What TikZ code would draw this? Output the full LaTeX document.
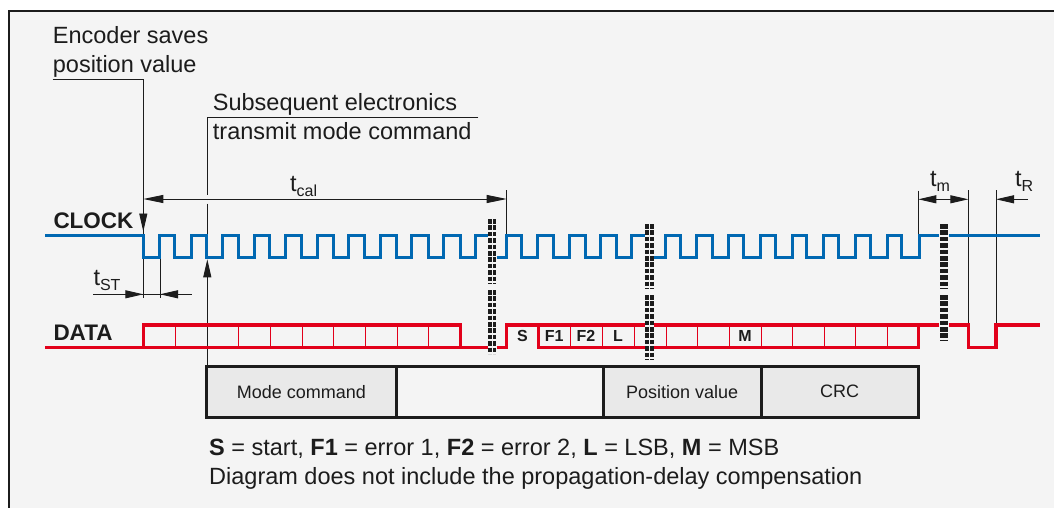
\documentclass[tikz,border=0pt]{standalone}
\usepackage{fontspec}
\setmainfont{Liberation Sans}
\usetikzlibrary{arrows.meta}
\usetikzlibrary{positioning}
\definecolor{ClkBlue}{RGB}{0,104,178}
\definecolor{DatRed}{RGB}{226,0,26}
\definecolor{PanelGray}{RGB}{244,244,244}
\definecolor{FieldGray}{RGB}{233,233,233}
\definecolor{InkGray}{RGB}{28,28,28}
\tikzset{
	clk/.style={line width=3pt, draw=ClkBlue},
	dat/.style={line width=3.4pt, draw=DatRed},
	bitsep/.style={line width=0.9pt, draw=DatRed},
	dimln/.style={line width=0.9pt, draw=InkGray},
	arw/.style={-{Triangle[length=18pt, width=8pt]}},
	arwboth/.style={{Triangle[length=18pt, width=8pt]}-{Triangle[length=18pt, width=8pt]}},
	lbl/.style={font=\fontsize{23.5}{29}\selectfont, text=InkGray, inner sep=0pt, align=left},
	sig/.style={font=\fontsize{22.5}{27}\selectfont\bfseries, text=InkGray, inner sep=0pt},
	bit/.style={font=\fontsize{16}{18}\selectfont\bfseries, text=InkGray, inner sep=0pt},
	field/.style={draw=InkGray, line width=3pt, fill=FieldGray, minimum height=51.3pt,
		inner sep=0pt, outer sep=0pt, font=\fontsize{18}{20}\selectfont, text=InkGray},
	brk/.style={line width=3.8pt, draw=InkGray, dash pattern=on 4.6pt off 1.8pt}
}
\newcommand{\tlab}[1]{t\raisebox{-5pt}{\fontsize{16}{16}\selectfont #1}}

\begin{document}
\begin{tikzpicture}[x=1pt, y=-1pt]
	\useasboundingbox (0,0) rectangle (1054,508);
	\fill[white] (0,0) rectangle (1054,508);
	\fill[PanelGray] (9,11) rectangle (1054,508);
	\draw[line width=2.4pt, draw=InkGray] (1054,11) -- (9,11) -- (9,508);

	% labels on top
	\node[lbl, anchor=north west] (enc) at (52.7,26.5) {Encoder saves\\position value};
	\node[lbl, anchor=north west] (subs) at (212.7,93.2) {Subsequent electronics\\transmit mode command};
	\node[sig, anchor=base west] (clklbl) at (53.3,228.3) {CLOCK};
	\node[sig, anchor=base west] (datlbl) at (53.3,340) {DATA};

	% timing marks
	\coordinate (encL) at (52.7,79.3);
	\coordinate (encC) at (143.3,79.3);
	\coordinate (subsR) at (478.3,117.3);
	\coordinate (subsC) at (207.3,117.3);
	\draw[dimln] (encL) -- (encC) -- (143.3,298);
	\draw[dimln, arw] (143.3,205) -- (143.3,231.5);
	\draw[dimln] (subsR) -- (subsC) -- (207.3,195);
	\draw[dimln] (207.3,203.5) -- (207.3,235);
	\draw[dimln, arw] (207.3,366) -- (207.3,259.3);
	\draw[dimln, {Triangle[length=20pt, width=8pt]}-{Triangle[length=20pt, width=8pt]}] (143.3,199) -- (506.7,199);
	\draw[dimln] (506.7,190) -- (506.7,233.5);
	\node[lbl, anchor=base west] (tcal) at (290,191) {\tlab{cal}};
	\draw[dimln] (160,257.7) -- (160,298);
	\draw[dimln] (93,294.3) -- (191.7,294.3);
	\draw[dimln, arw] (120,294.3) -- (143.3,294.3);
	\draw[dimln, arw] (185,294.3) -- (160,294.3);
	\node[lbl, anchor=base west] (tst) at (93.3,285) {\tlab{ST}};
	\draw[dimln] (918.3,190.7) -- (918.3,235);
	\draw[dimln] (968.3,190) -- (968.3,325);
	\draw[dimln] (996,190) -- (996,325);
	\draw[dimln, arwboth] (918.3,199.3) -- (968.3,199.3);
	\draw[dimln, arw] (1028,199.3) -- (996,199.3);
	\node[lbl, anchor=base west] (tm) at (930,186.7) {\tlab{m}};
	\node[lbl, anchor=base west] (tr) at (1015,186.7) {\tlab{R}};

	% clock
	\draw[clk] (45,235) foreach \k in {0,...,10} {
		-- ({143.3+31.67*\k},235) -- ({143.3+31.67*\k},257.7)
		-- ({159.8+31.52*\k},257.7) -- ({159.8+31.52*\k},235)
	} -- (488,235);
	\draw[clk] (496.7,257.7) foreach \k in {0,...,3} {
		-- ({506.7+31.25*\k},257.7) -- ({506.7+31.25*\k},235)
		-- ({521.7+31.67*\k},235) -- ({521.7+31.67*\k},257.7)
	} -- (631.7,257.7) -- (631.7,235) -- (645,235);
	\draw[clk] (654,257.7) foreach \k in {0,...,7} {
		-- ({665+31.78*\k},257.7) -- ({665+31.78*\k},235)
		-- ({680.7+31.57*\k},235) -- ({680.7+31.57*\k},257.7)
	} -- (919.3,257.7) -- (919.3,235) -- (939.3,235);
	\draw[clk] (948.7,235) -- (1040,235);

	% data
	\foreach \k in {1,3,4,5,6,7,8,9}
		\draw[bitsep] ({143.3+31.73*\k},325) -- ++(0,22.7);
	\foreach \x in {570,602,634}
		\draw[bitsep] (\x,325) -- (\x,347.7);
	\foreach \k in {0,...,7}
		\draw[bitsep] ({666.3+31.6*\k},325) -- ++(0,22.7);
	\draw[dat] (45,347.7) -- (488,347.7);
	\draw[dat] (143.3,347.7) -- (143.3,325) -- (460.7,325) -- (460.7,347.7);
	\draw[dat] (496.7,347.7) -- (506.7,347.7) -- (506.7,325) -- (645,325);
	\draw[dat] (538.3,325) -- (538.3,347.7) -- (645,347.7);
	\draw[dat] (654,325) -- (939.3,325);
	\draw[dat] (948.7,325) -- (968.3,325) -- (968.3,347.7) -- (996,347.7) -- (996,325) -- (1040,325);
	\draw[dat] (654,347.7) -- (918.3,347.7) -- (918.3,325);
	\node[bit] (bs) at (522.5,336.4) {S};
	\node[bit] (bf1) at (554.2,336.4) {F1};
	\node[bit] (bf2) at (586,336.4) {F2};
	\node[bit] (bl) at (618,336.4) {L};
	\node[bit] (bm) at (745,336.4) {M};

	% breaks
	\foreach \bx/\ya/\yb/\yc/\yd in {492.2/219/283.3/290/354, 649.5/224/288.3/295/359.3, 944/224/288.3/295/340} {
		\draw[brk] (\bx-2.3,\ya) -- (\bx-2.3,\yb) (\bx-2.3,\yc) -- (\bx-2.3,\yd);
		\draw[brk] (\bx+2.3,\ya) -- (\bx+2.3,\yb) (\bx+2.3,\yc) -- (\bx+2.3,\yd);
	}

	% frame fields
	\node[field, minimum width=189.3pt, anchor=north west] (modecmd) at (206.7,366) {Mode command};
	\node[field, minimum width=207.3pt, fill=PanelGray, right=0pt of modecmd] (idle) {};
	\node[field, minimum width=157.7pt, right=0pt of idle] (posval) {Position value};
	\node[field, minimum width=157.3pt, right=0pt of posval] (crc) {CRC};

	\node[lbl, anchor=north west] (legend) at (209,439.2)
		{\textbf{S} = start, \textbf{F1} = error 1, \textbf{F2} = error 2, \textbf{L} = LSB, \textbf{M} = MSB\\
		Diagram does not include the propagation-delay compensation};
\end{tikzpicture}
\end{document}
